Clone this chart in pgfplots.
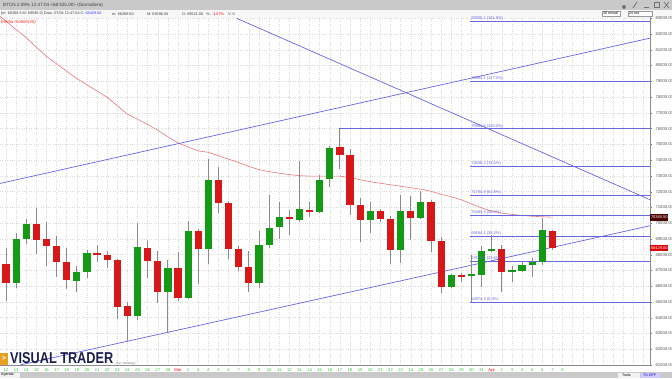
\documentclass[border=0pt]{standalone}
\usepackage{pgfplots}
\usepackage{pgfplotstable}
\pgfplotsset{compat=1.18}
\usepackage{fontspec}
\setmainfont{Liberation Sans}
\usepackage{graphicx}
\definecolor{cred}{HTML}{D81818}
\definecolor{cgreen}{HTML}{149A14}
\definecolor{cwick}{HTML}{8A8A8A}
\definecolor{cline}{HTML}{6666E0}
\definecolor{cma}{HTML}{E87878}
\definecolor{cgrid}{HTML}{DADADA}
\definecolor{cbar}{HTML}{C9C9C9}
\definecolor{cdate}{HTML}{3CC83C}
\definecolor{clogo}{HTML}{1C1F4E}
\definecolor{corange}{HTML}{E8A020}

% d open high low close
\pgfplotstableread{
d o h l c
1 66227 69383 65869 69000
2 69000 70233 68700 69958
7 66354 67294 65651 66930
8 66891 68271 66508 68105
13 64099 70022 63843 68489
16 65632 67677 63032 67147
18 65268 70124 65185 69485
20 68361 74067 67421 72745
25 66227 69530 65869 68636
26 68636 71767 68425 69703
27 69741 71338 69019 70406
29 70188 73958 70060 70872
31 70725 73045 70616 72745
32 72789 74917 72297 74770
36 70188 71364 69383 70764
39 68316 71767 67466 70764
41 70297 72041 70233 71364
44 65971 66764 65907 66719
46 66655 67997 64974.3 66764
47 66719 68527 65971 68207
48 68207 69275 68157 68380
50 66930 67294 66290 67038
51 66974 67549 66910 67358
52 67358 67805 66610 67530
53 67530 70342 67358 69549
}\upcandles
\pgfplotstableread{
d o h l c
0 67402 68425 65057 66227
3 69958 70936 68060 68955
4 69000 70086 67294 68527
5 68572 69166 66610 67505
6 67531 68425 65843 66399
9 68105 68636 67530 67977
10 67977 68252 67185 67658
11 67658 67722 63888 64693
12 64718 64974 62437 64099
14 68425 68846 66508 67594
15 67594 68207 64949 65651
17 67147 68169 65057 65230
19 69485 69658 66144 68361
21 72745 73556 70661 71256
22 71256 71402 67741 68361
23 68361 68527 66974 67249
24 67249 68207 65651 66227
28 70380 70808 69230 70233
30 70853 71338 70380 70725
33 74815 75994.6 73428 74342
34 74342 74706 70508 71147
35 71147 71575 68782 70188
37 70764 70872 70105 70252
38 70252 70444 67402 68316
40 70764 71722 68955 70297
42 71364 71447 68169 68846
43 68846 69102 65549 65971
45 66719 66866 66252 66636
49 68380 68636 65651 66930
54 69521 69596.5 68288.5 68429
}\downcandles

\begin{document}
\begin{tikzpicture}[x=1pt,y=1pt]
\useasboundingbox (0,0) rectangle (672,378);
\fill[white] (0,0) rectangle (672,378);
% header bars
\fill[cbar] (0,368) rectangle (672,378);
\fill[white!94!gray] (0,360) rectangle (672,368);
\node[anchor=west,inner sep=0,font=\fontsize{4.6}{5}\selectfont,text=black!75] at (3,373) {BTCN 2.09\% 12:47:04 <68'425.00> (Giornaliera)};
\node[anchor=west,inner sep=0,font=\fontsize{3.8}{5}\selectfont,text=black!75] at (1,364) {[m: 68288.5 M: 69596.5] Data: 07/04 12:47:04 C: \textcolor{blue!80}{68429.00}};
\node[anchor=west,inner sep=0,font=\fontsize{3.8}{5}\selectfont,text=black!75] at (112,364) {m: 68288.50};
\node[anchor=west,inner sep=0,font=\fontsize{3.8}{5}\selectfont,text=black!75] at (147,364) {M: 69596.50};
\node[anchor=west,inner sep=0,font=\fontsize{3.8}{5}\selectfont,text=black!75] at (182,364) {O: 69521.00};
\node[anchor=west,inner sep=0,font=\fontsize{3.8}{5}\selectfont,text=black!75] at (206,364) {\%: \textcolor{red}{-1.57\%}};
\node[anchor=west,inner sep=0,font=\fontsize{3.8}{5}\selectfont,text=black!75] at (228,364) {V: 0};
% dropdowns
\draw[black!40,fill=white] (602,362) rectangle (620,367);
\draw[black!40,fill=white] (628,362) rectangle (652,367);
\node[anchor=west,inner sep=0,font=\fontsize{3.6}{4}\selectfont] at (603,364.5) {30 minuti};
\node[anchor=west,inner sep=0,font=\fontsize{3.6}{4}\selectfont] at (629,364.5) {24 ore};
% window buttons
\fill[black!55] (624,371) circle (2pt);
\draw[black!55,line width=0.8pt] (633,370) -- (637,376);
\draw[black!55,line width=0.8pt] (644,370.5) -- (649,370.5);
\draw[black!55,line width=0.6pt] (654,370.5) rectangle (659,375.5);
\draw[black!55,line width=0.7pt] (664,370) -- (669,376) (664,376) -- (669,370);
% bottom bar
\fill[cbar] (0,0) rectangle (672,6);
\fill[white!90!gray] (0,0.5) rectangle (20,5.5);
\node[anchor=west,inner sep=0,font=\fontsize{3.6}{4}\selectfont] at (1,3) {Agenda};
\fill[white!90!gray] (618,0.5) rectangle (640,5.5);
\node[anchor=west,inner sep=0,font=\fontsize{3.6}{4}\selectfont] at (622,3) {Tools};
\fill[blue!20] (641,0.5) rectangle (660,5.5);
\node[anchor=west,inner sep=0,font=\fontsize{3.6}{4}\selectfont,text=blue!70!black] at (643,3) {TS OFF};

\begin{axis}[
  at={(0pt,13pt)}, anchor=south west,
  scale only axis, width=650pt, height=348pt,
  xmin=-0.593, xmax=63.64, ymin=61000, ymax=83080,
  axis x line*=bottom, axis y line*=right,
  axis line style={black!45, line width=0.6pt},
  ytick={61000,62000,...,83000},
  scaled y ticks=false,
  yticklabel style={font=\fontsize{4.2}{5}\selectfont, text=black!65},
  /pgf/number format/fixed, /pgf/number format/fixed zerofill, /pgf/number format/precision=2,
  /pgf/number format/1000 sep={}, /pgf/number format/assume math mode=true,
  ytick pos=right, tick align=outside, major tick length=2pt,
  y tick style={black!50},
  xtick={0,1,...,63},
  x tick style={draw=none},
  xticklabels={12,13,14,15,16,17,18,19,20,21,22,23,24,25,26,27,28,\textcolor{red}{Mar},2,3,4,5,6,7,8,9,10,11,12,13,14,15,16,17,18,19,20,21,22,23,24,25,26,27,28,29,30,31,\textcolor{red}{Apr},2,3,4,5,6,7,8,,,,,,,,},
  xticklabel style={font=\fontsize{4.2}{5}\selectfont, text=cdate, inner sep=1pt},
  grid=major,
  major grid style={cgrid, dotted, line width=0.5pt},
]
% moving average (30)
\addplot[cma, line width=0.6pt, mark=none] coordinates {
(-1,83333)(0,82809)(1,82285)(2,81761)(3,81166)(4,80579)(5,80106)(6,79639)(7,79179)(8,78776)(9,78387)(10,77984)(11,77447)(12,76917)(13,76591)(14,76265)(15,75888)(16,75479)(17,75096)(18,74827)(19,74584)(20,74495)(21,74278)(22,74061)(23,73844)(24,73594)(25,73396)(26,73268)(27,73172)(28,73077)(29,73013)(30,72981)(31,72981)(32,72981)(33,72981)(34,72885)(35,72757)(36,72629)(37,72533)(38,72437)(39,72342)(40,72246)(41,72150)(42,72022)(43,71831)(44,71671)(45,71479)(46,71223)(47,70968)(48,70764)(49,70636)(50,70553)(51,70489)(52,70438)(53,70406)(54,70380)};
% trend lines
\addplot[cline, line width=0.7pt, mark=none] coordinates {(-0.593,72518)(63.64,81738)};
\addplot[cline, line width=0.7pt, mark=none] coordinates {(1.383,61002)(63.64,69834)};
\addplot[cline, line width=0.7pt, mark=none] coordinates {(22.8,82994)(63.64,71484)};
% fibonacci levels
\addplot[cline, line width=0.6pt, mark=none] coordinates {(45.9,82805.1)(63.64,82805.1)};
\addplot[cline, line width=0.6pt, mark=none] coordinates {(45.9,78992.1)(63.64,78992.1)};
\addplot[cline, line width=0.6pt, mark=none] coordinates {(32.93,75994.6)(63.64,75994.6)};
\addplot[cline, line width=0.6pt, mark=none] coordinates {(45.9,73636.3)(63.64,73636.3)};
\addplot[cline, line width=0.6pt, mark=none] coordinates {(45.9,71784.9)(63.64,71784.9)};
\addplot[cline, line width=0.6pt, mark=none] coordinates {(45.9,70484.5)(63.64,70484.5)};
\addplot[cline, line width=0.6pt, mark=none] coordinates {(45.9,69184.1)(63.64,69184.1)};
\addplot[cline, line width=0.6pt, mark=none] coordinates {(45.9,67575.1)(63.64,67575.1)};
\addplot[cline, line width=0.6pt, mark=none] coordinates {(45.9,64974.3)(63.64,64974.3)};
% wicks
\addplot[draw=none, mark=none, error bars/.cd, y dir=both, y explicit, error mark=none, error bar style={draw=cwick, line width=0.9pt}]
  table[x=d, y expr={(\thisrow{h}+\thisrow{l})/2}, y error expr={(\thisrow{h}-\thisrow{l})/2}] {\upcandles};
\addplot[draw=none, mark=none, error bars/.cd, y dir=both, y explicit, error mark=none, error bar style={draw=cwick, line width=0.9pt}]
  table[x=d, y expr={(\thisrow{h}+\thisrow{l})/2}, y error expr={(\thisrow{h}-\thisrow{l})/2}] {\downcandles};
% bodies
\addplot[draw=none, mark=none, error bars/.cd, y dir=both, y explicit, error mark=none, error bar style={draw=cgreen, line width=7.2pt}]
  table[x=d, y expr={(\thisrow{o}+\thisrow{c})/2}, y error expr={max(abs(\thisrow{c}-\thisrow{o})/2,25)}] {\upcandles};
\addplot[draw=none, mark=none, error bars/.cd, y dir=both, y explicit, error mark=none, error bar style={draw=cred, line width=7.2pt}]
  table[x=d, y expr={(\thisrow{o}+\thisrow{c})/2}, y error expr={max(abs(\thisrow{c}-\thisrow{o})/2,25)}] {\downcandles};
\coordinate (ma) at (axis cs:63.64,70380);
\coordinate (px) at (axis cs:63.64,68429);
\coordinate (f1) at (axis cs:45.9,82805.1);
\coordinate (f2) at (axis cs:45.9,78992.1);
\coordinate (f3) at (axis cs:45.9,75994.6);
\coordinate (f4) at (axis cs:45.9,73636.3);
\coordinate (f5) at (axis cs:45.9,71784.9);
\coordinate (f6) at (axis cs:45.9,70484.5);
\coordinate (f7) at (axis cs:45.9,69184.1);
\coordinate (f8) at (axis cs:45.9,67575.1);
\coordinate (f9) at (axis cs:45.9,64974.3);
\end{axis}
\foreach \c/\t in {f1/82805.1 (161.8\%),f2/78992.1 (127.2\%),f3/75994.6 (100.0\%),f4/73636.3 (78.6\%),f5/71784.9 (61.8\%),f6/70484.5 (50.0\%),f7/69184.1 (38.2\%),f8/67575.1 (23.6\%),f9/64974.3 (0.0\%)}
  \node[anchor=south west, inner sep=0.6pt, font=\fontsize{4}{4}\selectfont, text=cline] at (\c) {\t};
\node[anchor=west, fill=black!70!red, text=white, inner sep=0.8pt, minimum height=7pt, font=\fontsize{4}{4}\selectfont] at (ma) {70380.50};
\node[anchor=west, fill=red!85!black, text=white, inner sep=0.8pt, minimum height=6pt, font=\fontsize{4}{4}\selectfont] at (px) {68429.00};
\node[anchor=west, inner sep=0, font=\fontsize{4.5}{5}\selectfont, text=red!80] at (1,356) {Media mobile(30)};
% logo
\fill[corange] (0,13) rectangle (7.5,25.5);
\node[text=white, inner sep=0, font=\fontsize{7}{7}\selectfont\bfseries] at (3.8,19.2) {>};
\node[anchor=south west, inner sep=0, text=clogo] at (10,14) {\resizebox{103pt}{11pt}{\bfseries VISUAL TRADER}};
\node[anchor=west, inner sep=0, font=\fontsize{3.2}{4}\selectfont, text=black!50] at (116,14.5) {[sec.Intraday]};
\end{tikzpicture}
\end{document}
